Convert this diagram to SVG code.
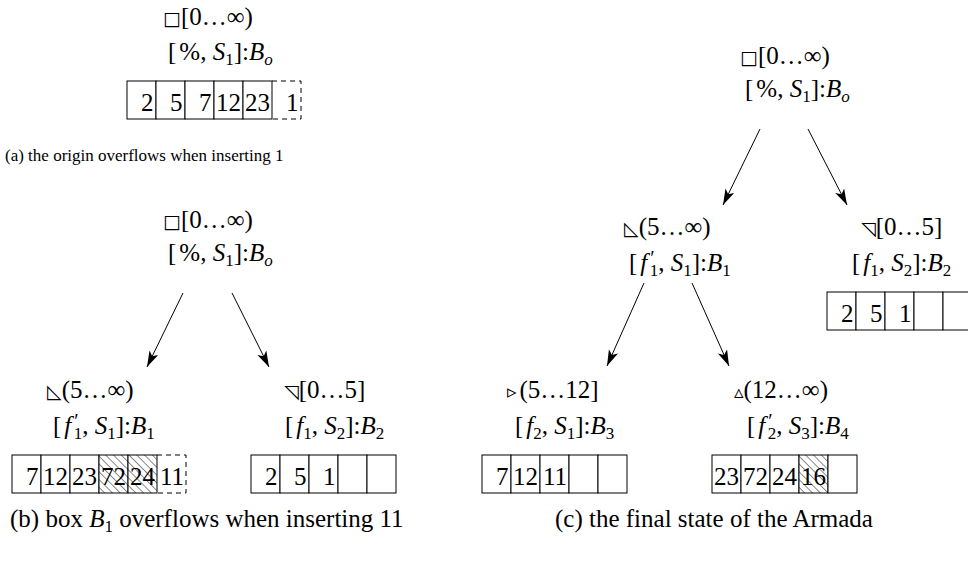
<svg xmlns="http://www.w3.org/2000/svg" width="968" height="561" viewBox="0 0 968 561">
<style>
text{font-family:"Liberation Serif","Times New Roman",serif;font-size:25px;fill:#000}
.i{font-style:italic}
.s{font-size:17px}
.p{font-size:20px}
.sym{font-family:"DejaVu Sans",sans-serif;font-size:19px}
.d{text-anchor:end}
.c{fill:#fff;stroke:#000;stroke-width:1}
.h{fill:url(#hatch);stroke:#000;stroke-width:1}
.ds{fill:none;stroke:#000;stroke-width:1;stroke-dasharray:5 4}
.arr{stroke:#000;stroke-width:1;fill:none;marker-end:url(#ah)}
</style>
<defs>
<pattern id="hatch" width="5.5" height="5.5" patternUnits="userSpaceOnUse" patternTransform="rotate(-45)">
<rect width="5.5" height="5.5" fill="#fff"/>
<line x1="0" y1="0" x2="0" y2="5.5" stroke="#000" stroke-width="0.9"/>
</pattern>
<marker id="ah" markerWidth="18" markerHeight="12" refX="16" refY="5" orient="auto" markerUnits="userSpaceOnUse">
<path d="M0,0 L16,5 L0,10 L4,5 Z" fill="#000"/>
</marker>
</defs>
<rect width="968" height="561" fill="#fff"/>

<g id="connectors">
<line class="arr" x1="183" y1="293" x2="147" y2="367"/>
<line class="arr" x1="232" y1="293" x2="269" y2="367"/>
<line class="arr" x1="760" y1="129" x2="723" y2="205"/>
<line class="arr" x1="808" y1="129" x2="847" y2="205"/>
<line class="arr" x1="644" y1="283" x2="607" y2="366"/>
<line class="arr" x1="692" y1="283" x2="729" y2="366"/>
</g>

<g id="a-origin">
<text x="163" y="25"><tspan class="sym">□</tspan>[0…∞)</text>
<text x="168" y="60">[<tspan dx="3">%,</tspan> <tspan class="i">S</tspan><tspan class="s" dy="5">1</tspan><tspan dy="-5">]:</tspan><tspan class="i">B</tspan><tspan class="s i" dy="5">o</tspan></text>
<rect class="c" x="127" y="81" width="29" height="38"/>
<rect class="c" x="156" y="81" width="29" height="38"/>
<rect class="c" x="185" y="81" width="29" height="38"/>
<rect class="c" x="214" y="81" width="29" height="38"/>
<rect class="c" x="243" y="81" width="29" height="38"/>
<path class="ds" d="M272,81 H301 V119 H272"/>
<text class="d" x="153.5" y="111">2</text>
<text class="d" x="182.5" y="111">5</text>
<text class="d" x="211.5" y="111">7</text>
<text class="d" x="241" y="111">12</text>
<text class="d" x="270" y="111">23</text>
<text class="d" x="298.5" y="111">1</text>
</g>
<text id="caption-a" x="5" y="161" style="font-size:17px">(a) the origin overflows when inserting 1</text>

<g id="b-origin">
<text x="163" y="228"><tspan class="sym">□</tspan>[0…∞)</text>
<text x="168" y="261">[<tspan dx="3">%,</tspan> <tspan class="i">S</tspan><tspan class="s" dy="5">1</tspan><tspan dy="-5">]:</tspan><tspan class="i">B</tspan><tspan class="s i" dy="5">o</tspan></text>
</g>

<g id="b-B1">
<text x="47" y="398"><tspan class="sym">◺</tspan>(5…∞)</text>
<text x="53" y="434">[<tspan class="i" dx="3">f</tspan><tspan class="p" dx="3" dy="-6">′</tspan><tspan class="s" dx="-5" dy="11">1</tspan><tspan dy="-5">,</tspan> <tspan class="i">S</tspan><tspan class="s" dy="5">1</tspan><tspan dy="-5">]:</tspan><tspan class="i">B</tspan><tspan class="s" dy="5">1</tspan></text>
<rect class="c" x="12" y="455" width="29" height="38"/>
<rect class="c" x="41" y="455" width="29" height="38"/>
<rect class="c" x="70" y="455" width="29" height="38"/>
<rect class="h" x="99" y="455" width="29" height="38"/>
<rect class="h" x="128" y="455" width="29" height="38"/>
<path class="ds" d="M157,455 H186 V493 H157"/>
<text class="d" x="38.5" y="485">7</text>
<text class="d" x="68" y="485">12</text>
<text class="d" x="97" y="485">23</text>
<text class="d" x="126" y="485">72</text>
<text class="d" x="155" y="485">24</text>
<text class="d" x="184" y="485">11</text>
</g>

<g id="b-B2">
<text x="284" y="398"><tspan class="sym">◹</tspan>[0…5]</text>
<text x="285" y="434">[<tspan class="i" dx="3">f</tspan><tspan class="s" dy="5">1</tspan><tspan dy="-5">,</tspan> <tspan class="i">S</tspan><tspan class="s" dy="5">2</tspan><tspan dy="-5">]:</tspan><tspan class="i">B</tspan><tspan class="s" dy="5">2</tspan></text>
<rect class="c" x="251" y="455" width="29" height="38"/>
<rect class="c" x="280" y="455" width="29" height="38"/>
<rect class="c" x="309" y="455" width="29" height="38"/>
<rect class="c" x="338" y="455" width="29" height="38"/>
<rect class="c" x="367" y="455" width="29" height="38"/>
<text class="d" x="277.5" y="485">2</text>
<text class="d" x="306.5" y="485">5</text>
<text class="d" x="335.5" y="485">1</text>
</g>
<text id="caption-b" x="10" y="527">(b) box <tspan class="i">B</tspan><tspan class="s" dy="5">1</tspan><tspan dy="-5"> overflows when inserting 11</tspan></text>

<g id="c-origin">
<text x="740" y="64"><tspan class="sym">□</tspan>[0…∞)</text>
<text x="745" y="97">[<tspan dx="3">%,</tspan> <tspan class="i">S</tspan><tspan class="s" dy="5">1</tspan><tspan dy="-5">]:</tspan><tspan class="i">B</tspan><tspan class="s i" dy="5">o</tspan></text>
</g>

<g id="c-B1">
<text x="624" y="235"><tspan class="sym">◺</tspan>(5…∞)</text>
<text x="629" y="271">[<tspan class="i" dx="3">f</tspan><tspan class="p" dx="3" dy="-6">′</tspan><tspan class="s" dx="-5" dy="11">1</tspan><tspan dy="-5">,</tspan> <tspan class="i">S</tspan><tspan class="s" dy="5">1</tspan><tspan dy="-5">]:</tspan><tspan class="i">B</tspan><tspan class="s" dy="5">1</tspan></text>
</g>

<g id="c-B2">
<text x="861" y="235"><tspan class="sym">◹</tspan>[0…5]</text>
<text x="852" y="271">[<tspan class="i" dx="3">f</tspan><tspan class="s" dy="5">1</tspan><tspan dy="-5">,</tspan> <tspan class="i">S</tspan><tspan class="s" dy="5">2</tspan><tspan dy="-5">]:</tspan><tspan class="i">B</tspan><tspan class="s" dy="5">2</tspan></text>
<rect class="c" x="827" y="292" width="29" height="38"/>
<rect class="c" x="856" y="292" width="29" height="38"/>
<rect class="c" x="885" y="292" width="29" height="38"/>
<rect class="c" x="914" y="292" width="29" height="38"/>
<rect class="c" x="943" y="292" width="29" height="38"/>
<text class="d" x="853.5" y="322">2</text>
<text class="d" x="882.5" y="322">5</text>
<text class="d" x="911.5" y="322">1</text>
</g>

<g id="c-B3">
<text x="507" y="398"><tspan class="sym">▹</tspan><tspan dx="3">(5…12]</tspan></text>
<text x="515" y="434">[<tspan class="i" dx="3">f</tspan><tspan class="s" dy="5">2</tspan><tspan dy="-5">,</tspan> <tspan class="i">S</tspan><tspan class="s" dy="5">1</tspan><tspan dy="-5">]:</tspan><tspan class="i">B</tspan><tspan class="s" dy="5">3</tspan></text>
<rect class="c" x="482" y="455" width="29" height="38"/>
<rect class="c" x="511" y="455" width="29" height="38"/>
<rect class="c" x="540" y="455" width="29" height="38"/>
<rect class="c" x="569" y="455" width="29" height="38"/>
<rect class="c" x="598" y="455" width="29" height="38"/>
<text class="d" x="508.5" y="485">7</text>
<text class="d" x="538" y="485">12</text>
<text class="d" x="567" y="485">11</text>
</g>

<g id="c-B4">
<text x="734" y="398"><tspan class="sym">▵</tspan>(12…∞)</text>
<text x="747" y="434">[<tspan class="i" dx="3">f</tspan><tspan class="p" dx="3" dy="-6">′</tspan><tspan class="s" dx="-5" dy="11">2</tspan><tspan dy="-5">,</tspan> <tspan class="i">S</tspan><tspan class="s" dy="5">3</tspan><tspan dy="-5">]:</tspan><tspan class="i">B</tspan><tspan class="s" dy="5">4</tspan></text>
<rect class="c" x="712" y="455" width="29" height="38"/>
<rect class="c" x="741" y="455" width="29" height="38"/>
<rect class="c" x="770" y="455" width="29" height="38"/>
<rect class="h" x="799" y="455" width="29" height="38"/>
<rect class="c" x="828" y="455" width="29" height="38"/>
<text class="d" x="739" y="485">23</text>
<text class="d" x="768" y="485">72</text>
<text class="d" x="797" y="485">24</text>
<text class="d" x="826" y="485">16</text>
</g>
<text id="caption-c" x="555" y="527">(c) the final state of the Armada</text>
</svg>
